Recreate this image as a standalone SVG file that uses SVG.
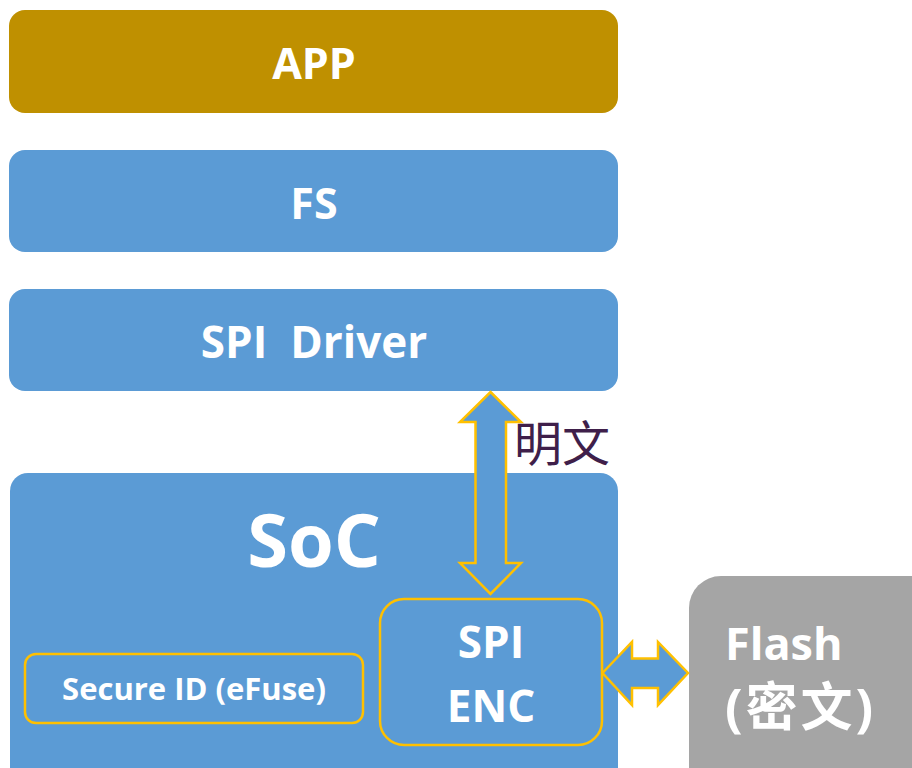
<svg xmlns="http://www.w3.org/2000/svg" width="912" height="768" viewBox="0 0 912 768">
  <style>
    .lbl { font-family: "Open Sans", "Noto Sans", "Noto Sans CJK SC", sans-serif; font-weight: bold; fill: #FFFFFF; text-anchor: middle; }
    .lbl-left { font-family: "Open Sans", "Noto Sans", "Noto Sans CJK SC", sans-serif; font-weight: bold; fill: #FFFFFF; text-anchor: start; }
    .blue { fill: #5B9BD5; }
    .frame { fill: #5B9BD5; stroke: #FFC000; stroke-width: 2.5; }
    .arrow { fill: #5B9BD5; stroke: #FFC000; stroke-width: 2.5; stroke-linejoin: miter; }
  </style>
  <rect width="912" height="768" fill="#FFFFFF"/>

  <g id="app">
    <rect x="9" y="10" width="609" height="103" rx="16" fill="#BF9000"/>
    <text class="lbl" x="314" y="79" font-size="43">APP</text>
  </g>

  <g id="fs">
    <rect class="blue" x="9" y="150" width="609" height="102" rx="16"/>
    <text class="lbl" x="314" y="219" font-size="43">FS</text>
  </g>

  <g id="spi-driver">
    <rect class="blue" x="9" y="289" width="609" height="102" rx="16"/>
    <text class="lbl" x="314" y="358" font-size="44" xml:space="preserve">SPI  Driver</text>
  </g>

  <g id="soc">
    <rect class="blue" x="10" y="473" width="608" height="320" rx="18"/>
    <text class="lbl" x="314" y="567" font-size="74">SoC</text>
  </g>

  <g id="secure-id">
    <rect class="frame" x="25" y="654" width="338" height="69" rx="11"/>
    <text class="lbl" x="194" y="700" font-size="31">Secure ID (eFuse)</text>
  </g>

  <g id="spi-enc">
    <rect class="frame" x="380" y="599" width="222" height="146" rx="24"/>
    <text class="lbl" x="491" y="658" font-size="44">SPI</text>
    <text class="lbl" x="491" y="722" font-size="44">ENC</text>
  </g>

  <g id="flash">
    <rect x="689" y="576" width="260" height="230" rx="32" fill="#A5A5A5"/>
    <text class="lbl-left" x="725" y="660" font-size="45">Flash</text>
    <text class="lbl-left" x="725" y="726" font-size="52" letter-spacing="3">(密文)</text>
  </g>

  <g id="connectors">
    <!-- plaintext link between SPI driver and SPI ENC -->
    <polygon class="arrow" points="490.5,392 521,422 506,422 506,563 521,563 490.5,594 460,563 475.5,563 475.5,422 460,422"/>
    <!-- ciphertext link between SPI ENC and Flash -->
    <polygon class="arrow" points="602.5,673 632,642 632,658.5 658,658.5 658,642 688,673 658,705 658,688 632,688 632,705"/>
    <text x="514" y="461" font-family="'Noto Sans CJK SC', sans-serif" font-size="48" fill="#3F1F4A">明文</text>
  </g>
</svg>
